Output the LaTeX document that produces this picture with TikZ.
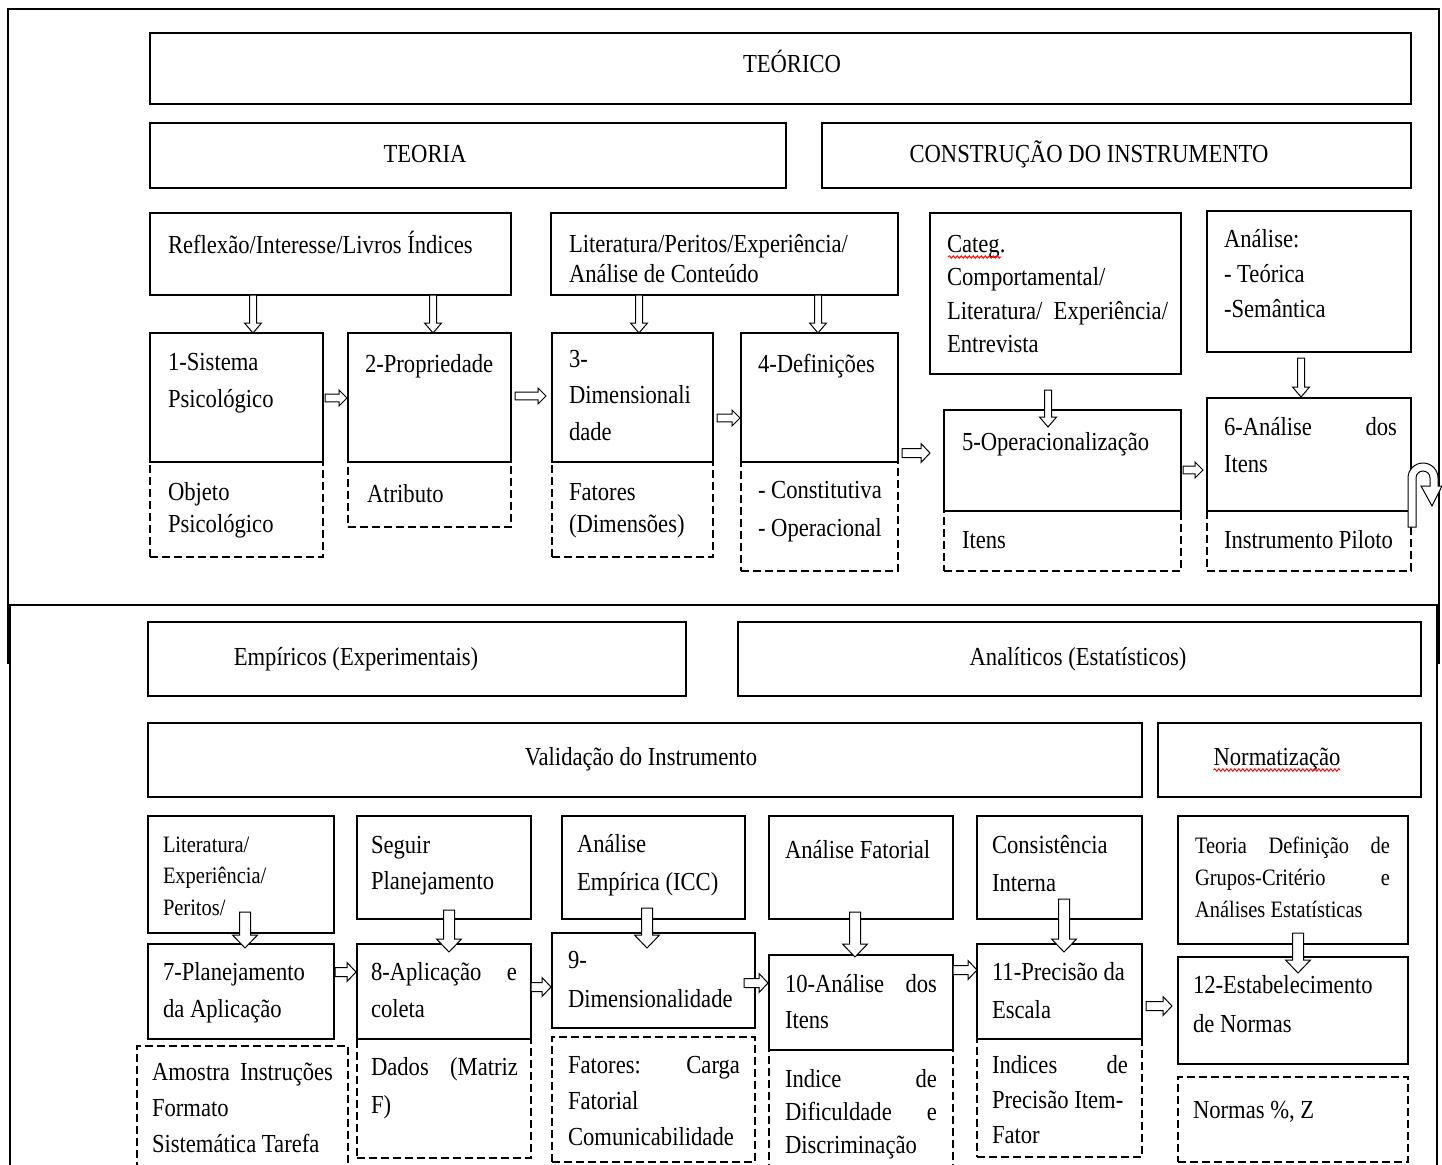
\documentclass[tikz,border=0pt]{standalone}
\usepackage{fontspec}
\setmainfont{Liberation Serif}[FakeStretch=0.87]
\usetikzlibrary{calc,decorations.pathmorphing}
\tikzset{
 bx/.style={draw, line width=1.6pt, inner sep=0pt, outer sep=0pt},
 dbx/.style={draw, line width=1.3pt, dash pattern=on 8pt off 4pt, inner sep=0pt, outer sep=0pt},
 tx/.style={anchor=base west, inner sep=0pt, outer sep=0pt, align=flush left, text width=350pt, font=\fontsize{26pt}{#1}\selectfont},
 tx/.default=37pt,
 sx/.style={anchor=base west, inner sep=0pt, outer sep=0pt, align=flush left, text width=350pt, font=\fontsize{23.5pt}{#1}\selectfont},
 sx/.default=32pt,
 ttl/.style={anchor=base, inner sep=0pt, outer sep=0pt, font=\fontsize{26pt}{30pt}\selectfont},
 frm/.style={line width=1.6pt},
 harr/.style={draw, fill=white, line width=1pt, line join=miter},
 dar/.style n args={3}{harr, to path={let \p1=(\tikztostart),\p2=(\tikztotarget) in (\x1-#1,\y1) -- (\x1-#1,\y2+#3) -- (\x1-#2,\y2+#3) -- (\x1,\y2) -- (\x1+#2,\y2+#3) -- (\x1+#1,\y2+#3) -- (\x1+#1,\y1) -- cycle}},
 rar/.style n args={3}{harr, to path={let \p1=(\tikztostart),\p2=(\tikztotarget) in (\x1,\y1+#1) -- (\x2-#3,\y1+#1) -- (\x2-#3,\y1+#2) -- (\x2,\y1) -- (\x2-#3,\y1-#2) -- (\x2-#3,\y1-#1) -- (\x1,\y1-#1) -- cycle}},
 sd/.style={dar={3.5pt}{8.5pt}{10pt}},
 bd/.style={dar={5.5pt}{12.5pt}{13pt}},
 sr/.style={rar={3.8pt}{8pt}{8pt}},
 br/.style={rar={4.5pt}{9.5pt}{9pt}},
 wavy/.style={red, line width=0.9pt, decorate, decoration={snake, amplitude=1.3pt, segment length=4pt}}
}
\newcommand{\mkbox}[6]{\node[#2, anchor=north west, minimum width={#5-#3}, minimum height={#6-#4}] (#1) at (#3,#4) {};}
\begin{document}
\begin{tikzpicture}[x=1pt,y=-1pt]
\clip (0,0) rectangle (1442,1164);
\fill[white] (0,0) rectangle (1442,1164);
% frames
\draw[frm] (8,664) -- (8,9) -- (1439,9) -- (1439,664);
\draw[frm] (8,605) -- (1439,605);
\draw[frm] (10,1180) -- (10,605) -- (1437,605) -- (1437,1180);
% dashed boxes
\mkbox{d1}{dbx}{150}{462}{323}{557}
\mkbox{d2}{dbx}{348}{462}{511}{527}
\mkbox{d3}{dbx}{552}{462}{713}{557}
\mkbox{d4}{dbx}{741}{462}{898}{571}
\mkbox{d5}{dbx}{944}{511}{1181}{571}
\mkbox{d6}{dbx}{1207}{511}{1411}{571}
\mkbox{d7}{dbx}{137}{1046}{348}{1180}
\mkbox{d8}{dbx}{357}{1039}{531}{1158}
\mkbox{d9}{dbx}{552}{1037}{755}{1162}
\mkbox{d10}{dbx}{769}{1050}{953}{1180}
\mkbox{d11}{dbx}{977}{1039}{1142}{1157}
\mkbox{d12}{dbx}{1178}{1077}{1408}{1162}
% solid boxes top
\mkbox{teorico}{bx}{150}{33}{1411}{104}
\mkbox{teoria}{bx}{150}{123}{786}{188}
\mkbox{constr}{bx}{822}{123}{1411}{188}
\mkbox{refl}{bx}{150}{213}{511}{295}
\mkbox{lit}{bx}{551}{213}{898}{295}
\mkbox{categ}{bx}{930}{213}{1181}{374}
\mkbox{anal}{bx}{1207}{211}{1411}{352}
\mkbox{b1}{bx}{150}{333}{323}{462}
\mkbox{b2}{bx}{348}{333}{511}{462}
\mkbox{b3}{bx}{552}{333}{713}{462}
\mkbox{b4}{bx}{741}{333}{898}{462}
\mkbox{b5}{bx}{944}{410}{1181}{511}
\mkbox{b6}{bx}{1207}{398}{1411}{511}
% solid boxes bottom
\mkbox{emp}{bx}{148}{622}{686}{696}
\mkbox{ana}{bx}{738}{622}{1421}{696}
\mkbox{val}{bx}{148}{723}{1142}{797}
\mkbox{norm}{bx}{1158}{723}{1421}{797}
\mkbox{lit2}{bx}{148}{816}{334}{933}
\mkbox{seg}{bx}{357}{816}{531}{919}
\mkbox{ae}{bx}{562}{816}{745}{919}
\mkbox{af}{bx}{769}{816}{953}{919}
\mkbox{ci}{bx}{977}{816}{1142}{919}
\mkbox{teo}{bx}{1178}{816}{1408}{944}
\mkbox{b7}{bx}{148}{944}{334}{1039}
\mkbox{b8}{bx}{357}{944}{531}{1039}
\mkbox{b9}{bx}{552}{933}{755}{1028}
\mkbox{b10}{bx}{769}{955}{953}{1050}
\mkbox{b11}{bx}{977}{944}{1142}{1039}
\mkbox{b12}{bx}{1178}{957}{1408}{1064}
% texts top
\node[ttl] (tteorico) at (792,73) {TEÓRICO};
\node[ttl] (tteoria) at (425,162) {TEORIA};
\node[ttl] (tconstr) at (1089,162) {CONSTRUÇÃO DO INSTRUMENTO};
\node[tx] (trefl) at (168,253) {Reflexão/Interesse/Livros Índices};
\node[tx=30pt] (tlit) at (569,252) {Literatura/Peritos/Experiência/\\Análise de Conteúdo};
\node[tx=33.5pt, text width=221pt] (tcateg) at (947,252) {Categ.\\Comportamental/\\Literatura/\hfill Experiência/\\Entrevista};
\node[tx=35pt] (tanal) at (1224,247) {Análise:\\- Teórica\\-Semântica};
\node[tx] (tb1) at (168,370) {1-Sistema\\Psicológico};
\node[tx] (tb2) at (365,372) {2-Propriedade};
\node[tx=36.5pt] (tb3) at (569,367) {3-\\Dimensionali\\dade};
\node[tx] (tb4) at (758,372) {4-Definições};
\node[tx] (tb5) at (962,450) {5-Operacionalização};
\node[tx, text width=173pt] (tb6) at (1224,435) {6-Análise\hfill dos\\Itens};
\node[tx=32pt] (td1) at (168,500) {Objeto\\Psicológico};
\node[tx] (td2) at (367,502) {Atributo};
\node[tx=32pt] (td3) at (569,500) {Fatores\\(Dimensões)};
\node[tx=38pt] (td4) at (758,498) {- Constitutiva\\- Operacional};
\node[tx] (td5) at (962,548) {Itens};
\node[tx] (td6) at (1224,548) {Instrumento Piloto};
% texts bottom
\node[ttl] (temp) at (356,665) {Empíricos (Experimentais)};
\node[ttl] (tana) at (1078,665) {Analíticos (Estatísticos)};
\node[ttl] (tval) at (641,765) {Validação do Instrumento};
\node[ttl] (tnorm) at (1277,765) {Normatização};
\node[sx=31.5pt] (tlit2) at (163,852) {Literatura/\\Experiência/\\Peritos/};
\node[tx=36pt] (tseg) at (371,853) {Seguir\\Planejamento};
\node[tx=38pt] (tae) at (577,852) {Análise\\Empírica (ICC)};
\node[tx] (taf) at (785,858) {Análise Fatorial};
\node[tx=38pt] (tci) at (992,853) {Consistência\\Interna};
\node[sx=32pt, text width=195pt] (tteo) at (1195,853) {Teoria\hfill Definição\hfill de\\Grupos-Critério\hfill e\\Análises Estatísticas};
\node[tx] (tb7) at (163,980) {7-Planejamento\\da Aplicação};
\node[tx, text width=146pt] (tb8) at (371,980) {8-Aplicação\hfill e\\coleta};
\node[tx=39pt] (tb9) at (568,968) {9-\\Dimensionalidade};
\node[tx=36pt, text width=152pt] (tb10) at (785,992) {10-Análise\hfill dos\\Itens};
\node[tx=38pt] (tb11) at (992,980) {11-Precisão da\\Escala};
\node[tx=39pt] (tb12) at (1193,993) {12-Estabelecimento\\de Normas};
\node[tx=36pt, text width=181pt] (td7) at (152,1080) {Amostra\hfill Instruções\\Formato\\Sistemática Tarefa};
\node[tx=38pt, text width=147pt] (td8) at (371,1075) {Dados\hfill (Matriz\\F)};
\node[tx=36pt, text width=172pt] (td9) at (568,1073) {Fatores:\hfill Carga\\Fatorial\\Comunicabilidade};
\node[tx=33pt, text width=152pt] (td10) at (785,1087) {Indice\hfill de\\Dificuldade\hfill e\\Discriminação};
\node[tx=35pt, text width=136pt] (td11) at (992,1073) {Indices\hfill de\\Precisão Item-\\Fator};
\node[tx] (td12) at (1193,1118) {Normas \%, Z};
% spell-check underlines
\draw[wavy] ($(tcateg.base west)+(1,5)$) -- ($(tcateg.base west)+(54,5)$);
\draw[wavy] ($(tnorm.base west)+(0,5)$) -- ($(tnorm.base east)+(0,5)$);
% arrows top: down
\draw[sd] ($(refl.south west)+(103,0)$) to ($(b1.north west)+(103,0)$);
\draw[sd] ($(refl.south west)+(283,0)$) to ($(b2.north west)+(85,0)$);
\draw[sd] ($(lit.south west)+(88,0)$) to ($(b3.north west)+(87,0)$);
\draw[sd] ($(lit.south west)+(267,0)$) to ($(b4.north west)+(77,0)$);
\draw[sd] ($(categ.south west)+(118,16)$) to ($(b5.north west)+(104,17)$);
\draw[sd] ($(anal.south west)+(94,6)$) to ($(b6.north west)+(94,-1)$);
% arrows top: right
\draw[sr] ($(b1.north east)+(2,65)$) to ($(b2.north west)+(-1,65)$);
\draw[sr] ($(b2.north east)+(4,63)$) to ($(b3.north west)+(-6,63)$);
\draw[sr] ($(b3.north east)+(4,85)$) to ($(b4.north west)+(-1,85)$);
\draw[br] ($(b4.north east)+(4,120)$) to ($(b5.north west)+(-14,43)$);
\draw[sr] ($(b5.north east)+(2,60)$) to ($(b6.north west)+(-4,72)$);
% U-turn arrow
\draw[harr] (1408,527) -- (1408,478) arc[start angle=180, end angle=360, radius=15] -- (1438,486) -- (1442,486) -- (1432,506) -- (1421,486) -- (1430,486) -- (1430,478) arc[start angle=0, end angle=-180, radius=7] -- (1416,527) -- cycle;
% arrows bottom: down
\draw[bd] ($(lit2.south west)+(97,-21)$) to ($(b7.north west)+(97,4)$);
\draw[bd] ($(seg.south west)+(92,-9)$) to ($(b8.north west)+(92,8)$);
\draw[bd] ($(ae.south west)+(85,-11)$) to ($(b9.north west)+(95,15)$);
\draw[bd] ($(af.south west)+(86,-7)$) to ($(b10.north west)+(86,2)$);
\draw[bd] ($(ci.south west)+(87,-20)$) to ($(b11.north west)+(87,8)$);
\draw[bd] ($(teo.south west)+(120,-11)$) to ($(b12.north west)+(120,16)$);
% arrows bottom: right
\draw[br] ($(b7.north east)+(1,28)$) to ($(b8.north west)+(-1,28)$);
\draw[br] ($(b8.north east)+(0,43)$) to ($(b9.north west)+(-1,54)$);
\draw[br] ($(b9.north east)+(-11,50)$) to ($(b10.north west)+(-1,28)$);
\draw[br] ($(b10.north east)+(0,15)$) to ($(b11.north west)+(0,26)$);
\draw[br] ($(b11.north east)+(4,62)$) to ($(b12.north west)+(-6,49)$);
\end{tikzpicture}
\end{document}
